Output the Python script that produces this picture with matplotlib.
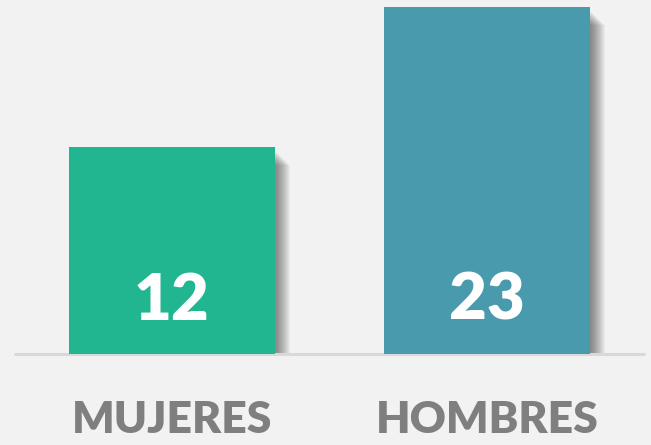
import matplotlib
matplotlib.use("Agg")
import matplotlib.pyplot as plt
import numpy as np

categories = ["MUJERES", "HOMBRES"]
values = [12, 23]
value_labels = ["12", "23"]
colors = ["#21b68f", "#4a9aae"]

W, H = 651, 445
fig = plt.figure(figsize=(W / 100, H / 100), dpi=100)
fig.patch.set_facecolor("#f2f2f2")

ax = fig.add_axes([14 / W, (H - 354) / H, 631 / W, 347 / H])
ax.set_facecolor("#f2f2f2")
ymin = -4.264
ax.set_xlim(-0.5, 1.5)
ax.set_ylim(ymin, 23)
ax.axis("off")

x = np.arange(len(values))
bw = 0.653
pxx = 2 / 631.0
pxy = (23 - ymin) / 347

# soft shadow
for i, v in enumerate(values):
    for k in range(14):
        off = 2 + k * 1.0
        ax.bar(x[i] + off * pxx, v - ymin - (off + 3) * pxy, bottom=ymin,
               width=bw, color="#000000", alpha=0.035, linewidth=0, zorder=1)

bars = ax.bar(x, [v - ymin for v in values], bottom=ymin, width=bw,
              color=colors, linewidth=0, zorder=3)

ax.plot([-0.5, 1.5], [ymin, ymin], color="#d9d9d9", lw=2.2, zorder=2,
        solid_capstyle="butt", clip_on=False)

for i, lab in enumerate(value_labels):
    ax.text(x[i], ymin + (354 - 301) * pxy, lab, ha="center", va="center",
            color="white", fontsize=47, fontweight="heavy", family="Lato", zorder=4)

for i, c in enumerate(categories):
    ax.text(x[i], ymin - (420 - 354) * pxy, c, ha="center", va="center",
            color="#7f7f7f", fontsize=32, fontweight="heavy", family="Lato",
            clip_on=False)

fig.savefig("out.png", dpi=100, facecolor=fig.get_facecolor())
